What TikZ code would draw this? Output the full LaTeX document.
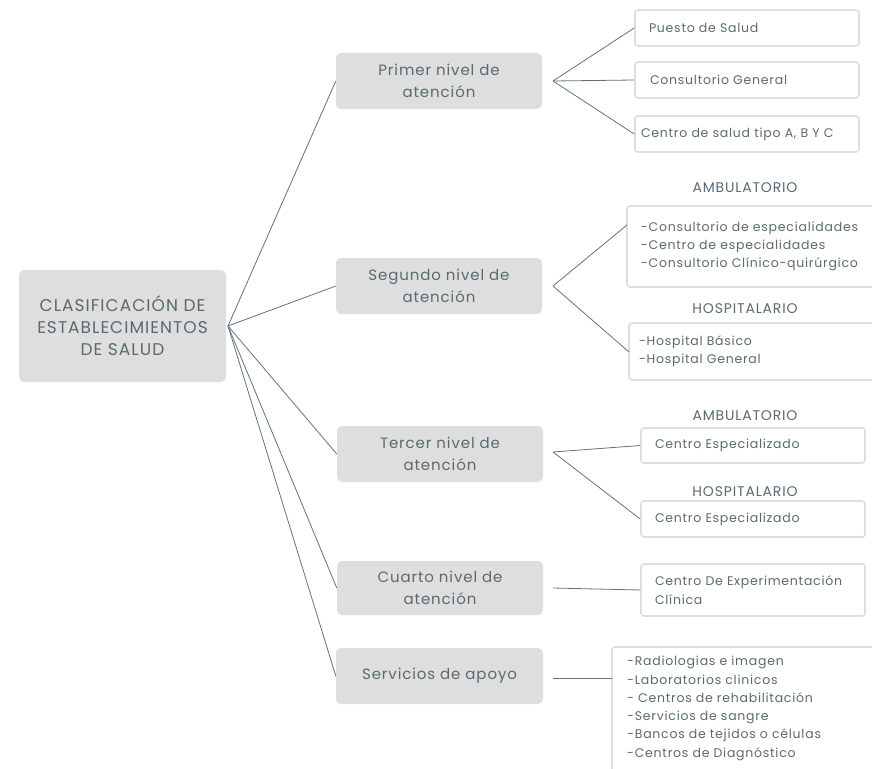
\documentclass[tikz,border=0pt]{standalone}
\usepackage{fontspec}
\setmainfont{Poppins}[LetterSpace=6]
\definecolor{boxgray}{HTML}{DEDEDE}
\definecolor{txt}{HTML}{5A6A72}
\definecolor{ln}{HTML}{607480}
\begin{document}
\begin{tikzpicture}[x=1pt,y=-1pt,
  mainbox/.style={fill=boxgray, rounded corners=5pt, text=txt, align=center, inner sep=0pt,
     font=\fontsize{15}{22}\selectfont},
  cbox/.style={draw=boxgray, line width=1.6pt, fill=white, rounded corners=3pt, text=txt,
     align=left, inner ysep=0pt, font=\fontsize{12.5}{18.3}\selectfont},
  lbl/.style={text=txt, inner sep=0pt, font=\fontsize{14}{16}\selectfont},
  conn/.style={draw=ln, line width=0.8pt}]
\clip (0,0) rectangle (872,768);
\fill[white] (0,0) rectangle (872,768);

% main nodes
\node[mainbox, minimum width=207pt, minimum height=112pt, font=\fontsize{17}{22}\selectfont] (root) at (122.5,326) {CLASIFICACIÓN DE\\ESTABLECIMIENTOS\\DE SALUD};
\node[mainbox, minimum width=206pt, minimum height=56pt] (n1) at (439,81) {Primer nivel de\\atención};
\node[mainbox, minimum width=206pt, minimum height=56pt] (n2) at (439,286) {Segundo nivel de\\atención};
\node[mainbox, minimum width=206pt, minimum height=56pt] (n3) at (440,454) {Tercer nivel de\\atención};
\node[mainbox, minimum width=206pt, minimum height=54pt] (n4) at (440,588) {Cuarto nivel de\\atención};
\node[mainbox, minimum width=207pt, minimum height=56pt] (n5) at (439.5,676) {Servicios de apoyo};

\coordinate (r) at (228,326);
\draw[conn] (r) -- (n1.west);
\draw[conn] (r) -- (n2.west);
\draw[conn] (r) -- (n3.west);
\draw[conn] (r) -- (n4.west);
\draw[conn] (r) -- (n5.west);

% first level children
\node[cbox, minimum height=36pt, inner xsep=14pt, text width=196pt] (p1) at (747,28) {Puesto de Salud};
\node[cbox, minimum height=36pt, inner xsep=15pt, text width=194pt] (p2) at (747,80) {Consultorio General};
\node[cbox, minimum height=36pt, inner xsep=6pt, text width=212pt] (p3) at (747,134) {Centro de salud tipo A, B Y C};
\coordinate (b1) at (553,81);
\draw[conn] (b1) -- (p1.west);
\draw[conn] (b1) -- (p2.west);
\draw[conn] (b1) -- (p3.west);

% second level
\node[lbl] (l1) at (745,188) {AMBULATORIO};
\node[cbox, minimum height=81pt, inner xsep=14pt, text width=225pt] (s1) at (753.5,246.5) {-Consultorio de especialidades\\-Centro de especialidades\\-Consultorio Clínico-quirúrgico};
\node[lbl] (l2) at (745,309) {HOSPITALARIO};
\node[cbox, minimum height=57pt, inner xsep=10pt, text width=231pt] (s2) at (754.5,351.5) {-Hospital Básico\\-Hospital General};
\coordinate (b2) at (553,286);
\coordinate (s1in) at (627,225);
\coordinate (s2in) at (629,352);
\draw[conn] (b2) -- (s1in);
\draw[conn] (b2) -- (s2in);

% third level
\node[lbl] (l3) at (745,416) {AMBULATORIO};
\node[cbox, minimum height=35pt, inner xsep=14pt, text width=196pt] (t1) at (753,445.5) {Centro Especializado};
\node[lbl] (l4) at (745,492) {HOSPITALARIO};
\node[cbox, minimum height=36pt, inner xsep=14pt, text width=196pt] (t2) at (753,519) {Centro Especializado};
\coordinate (b3) at (553,452);
\draw[conn] (b3) -- (t1.west);
\draw[conn] (b3) -- (t2.west);

% fourth level
\node[cbox, minimum height=52pt, inner xsep=14pt, text width=196pt] (c1) at (753,590) {Centro De Experimentación\\Clínica};
\coordinate (b4) at (553,588);
\draw[conn] (b4) -- (c1.west);

% support services
\draw[draw=boxgray, line width=1.6pt, fill=white, rounded corners=3pt] (612,647) rectangle (890,800);
\node[anchor=north west, inner sep=0pt, text=txt, align=left, font=\fontsize{12.5}{18.3}\selectfont] (sv) at (627,656) {-Radiologias e imagen\\-Laboratorios clinicos\\- Centros de rehabilitación\\-Servicios de sangre\\-Bancos de tejidos o células\\-Centros de Diagnóstico};
\coordinate (b5) at (553,678);
\coordinate (sv5) at (612,678);
\draw[conn] (b5) -- (sv5);
\end{tikzpicture}
\end{document}
